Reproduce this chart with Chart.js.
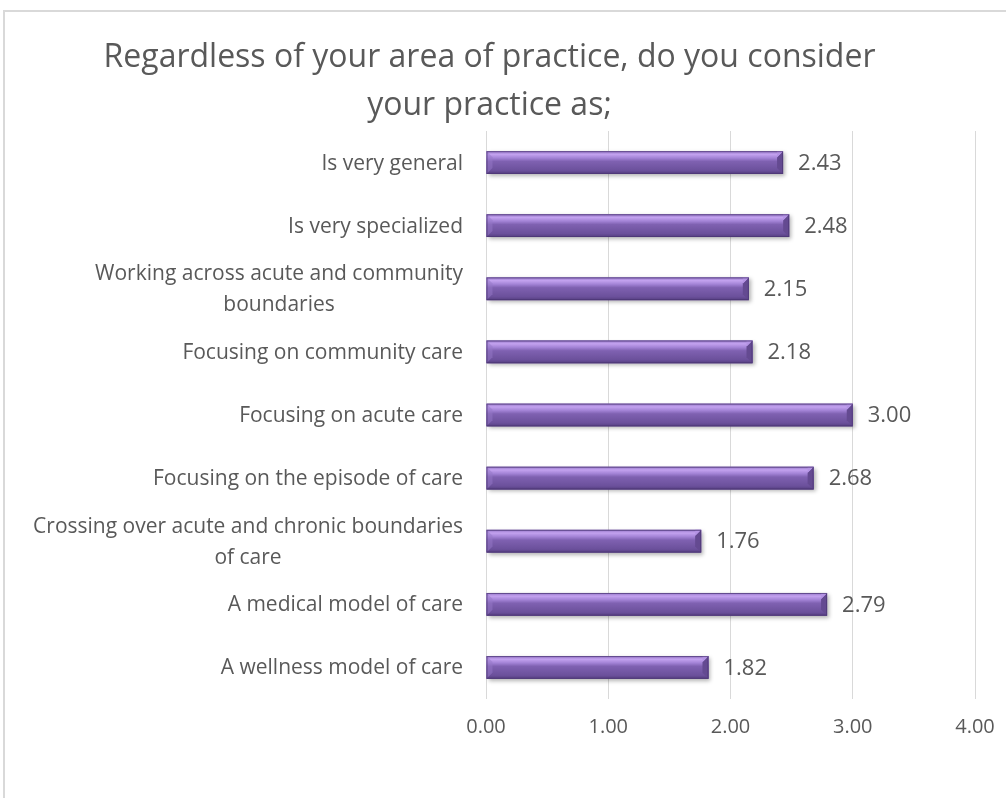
<!DOCTYPE html>
<html>
<head>
<meta charset="utf-8">
<title>Practice type</title>
<script src="https://cdn.jsdelivr.net/npm/chart.js@4/dist/chart.umd.min.js"></script>
<style>
    html, body { margin: 0; padding: 0; background: #ffffff; overflow: hidden; }
    .frame {
        position: absolute; left: 3px; top: 10px;
        width: 1100px; height: 900px;
        border: 2px solid #d9d9d9;
    }
    .chart-box {
        position: absolute; left: 4px; top: 11px;
        width: 1014px; height: 800px;
    }
</style>
</head>
<body>
<div class="frame"></div>
<div class="chart-box"><canvas id="practiceChart"></canvas></div>
<script>
// Chart data
const categories = [
    'Is very general',
    'Is very specialized',
    ['Working across acute and community', 'boundaries'],
    'Focusing on community care',
    'Focusing on acute care',
    'Focusing on the episode of care',
    ['Crossing over acute and chronic boundaries', 'of care'],
    'A medical model of care',
    'A wellness model of care'
];
const meanScores = [2.43, 2.48, 2.15, 2.18, 3.00, 2.68, 1.76, 2.79, 1.82];
const tickValues = [0, 1, 2, 3, 4];

const textColor = '#595959';
const fontFamily = '"Open Sans", Lato, sans-serif';

// Shadow under bars, plus the bevelled highlight on top of each bar
const barStyle = {
    id: 'barStyle',
    beforeDatasetsDraw(chart) {
        const ctx = chart.ctx;
        ctx.save();
        ctx.shadowColor = 'rgba(0, 0, 0, 0.3)';
        ctx.shadowBlur = 4;
        ctx.shadowOffsetX = 2;
        ctx.shadowOffsetY = 2;
    },
    afterDatasetsDraw(chart) {
        const ctx = chart.ctx;
        ctx.restore();
        const meta = chart.getDatasetMeta(0);
        meta.data.forEach(bar => {
            const p = bar.getProps(['x', 'y', 'base', 'height'], true);
            const top = p.y - p.height / 2;
            const bottom = p.y + p.height / 2;
            const left = p.base;
            const right = p.x;
            const bevel = Math.min(6, (right - left) / 2);

            const grad = ctx.createLinearGradient(0, top, 0, bottom);
            grad.addColorStop(0, '#9475c6');
            grad.addColorStop(0.14, '#c3a2ef');
            grad.addColorStop(0.3, '#a383d6');
            grad.addColorStop(0.45, '#7f61b1');
            grad.addColorStop(0.85, '#6b509b');
            grad.addColorStop(1, '#553e80');
            ctx.save();
            ctx.fillStyle = grad;
            ctx.fillRect(left, top, right - left, bottom - top);

            // right end bevel
            ctx.beginPath();
            ctx.moveTo(right - bevel, top + bevel);
            ctx.lineTo(right, top);
            ctx.lineTo(right, bottom);
            ctx.lineTo(right - bevel, bottom - bevel);
            ctx.closePath();
            ctx.fillStyle = '#644a91';
            ctx.fill();
            ctx.beginPath();
            ctx.moveTo(right - bevel, top + bevel);
            ctx.lineTo(right, top);
            ctx.lineTo(right - bevel, top);
            ctx.closePath();
            ctx.fillStyle = '#b493e4';
            ctx.fill();

            // left end bevel
            ctx.beginPath();
            ctx.moveTo(left, top);
            ctx.lineTo(left + bevel, top + bevel);
            ctx.lineTo(left + bevel, bottom - bevel);
            ctx.lineTo(left, bottom);
            ctx.closePath();
            ctx.fillStyle = 'rgba(150, 120, 200, 0.5)';
            ctx.fill();

            ctx.strokeStyle = 'rgba(74, 52, 114, 0.7)';
            ctx.lineWidth = 1;
            ctx.strokeRect(left + 0.5, top + 0.5, right - left - 1, bottom - top - 1);
            ctx.restore();
        });
    }
};

// Value labels at the end of each bar
const valueLabels = {
    id: 'valueLabels',
    afterDatasetsDraw(chart) {
        const ctx = chart.ctx;
        const meta = chart.getDatasetMeta(0);
        ctx.save();
        ctx.font = '22px ' + fontFamily;
        ctx.fillStyle = textColor;
        ctx.textAlign = 'left';
        ctx.textBaseline = 'middle';
        meta.data.forEach((bar, i) => {
            ctx.fillText(meanScores[i].toFixed(2), bar.x + 15, bar.y + 1);
        });
        ctx.restore();
    }
};

// Category labels: right-aligned block, lines centred within the block
const categoryLabels = {
    id: 'categoryLabels',
    afterDraw(chart) {
        const ctx = chart.ctx;
        const yScale = chart.scales.y;
        const rightEdge = chart.chartArea.left - 23;
        const lineHeight = 31;
        ctx.save();
        ctx.font = '21px ' + fontFamily;
        ctx.fillStyle = textColor;
        ctx.textAlign = 'center';
        ctx.textBaseline = 'middle';
        categories.forEach((label, i) => {
            const lines = Array.isArray(label) ? label : [label];
            const widest = Math.max(...lines.map(l => ctx.measureText(l).width));
            const cx = rightEdge - widest / 2;
            const y0 = yScale.getPixelForTick(i) + 1 - (lines.length - 1) * lineHeight / 2;
            lines.forEach((line, j) => {
                ctx.fillText(line, cx, y0 + j * lineHeight);
            });
        });
        ctx.restore();
    }
};

const ctx = document.getElementById('practiceChart').getContext('2d');
const practiceChart = new Chart(ctx, {
    type: 'bar',
    data: {
        labels: categories,
        datasets: [{
            data: meanScores,
            backgroundColor: '#7356a5',
            borderWidth: 0,
            categoryPercentage: 1,
            barPercentage: 0.36
        }]
    },
    options: {
        indexAxis: 'y',
        responsive: true,
        maintainAspectRatio: false,
        animation: false,
        layout: {
            padding: { left: 0, right: 43, top: 0, bottom: 0 }
        },
        scales: {
            x: {
                min: 0,
                max: 4,
                afterBuildTicks: scale => {
                    scale.ticks = tickValues.map(v => ({ value: v }));
                },
                afterFit: scale => { scale.height = 112; },
                grid: { color: '#d9d9d9', drawTicks: false },
                border: { display: false },
                ticks: {
                    padding: 16,
                    color: textColor,
                    font: { family: fontFamily, size: 20 },
                    callback: value => Number(value).toFixed(2)
                }
            },
            y: {
                afterFit: scale => { scale.width = 482; },
                grid: { display: false },
                border: { display: false },
                ticks: { display: false }
            }
        },
        plugins: {
            legend: { display: false },
            tooltip: { enabled: false },
            title: {
                display: true,
                text: ['Regardless of your area of practice, do you consider', 'your practice as;'],
                color: textColor,
                font: { family: fontFamily, size: 32, weight: 'normal', lineHeight: 1.5 },
                padding: { top: 23, bottom: 1 }
            }
        }
    },
    plugins: [barStyle, valueLabels, categoryLabels]
});
</script>
</body>
</html>
